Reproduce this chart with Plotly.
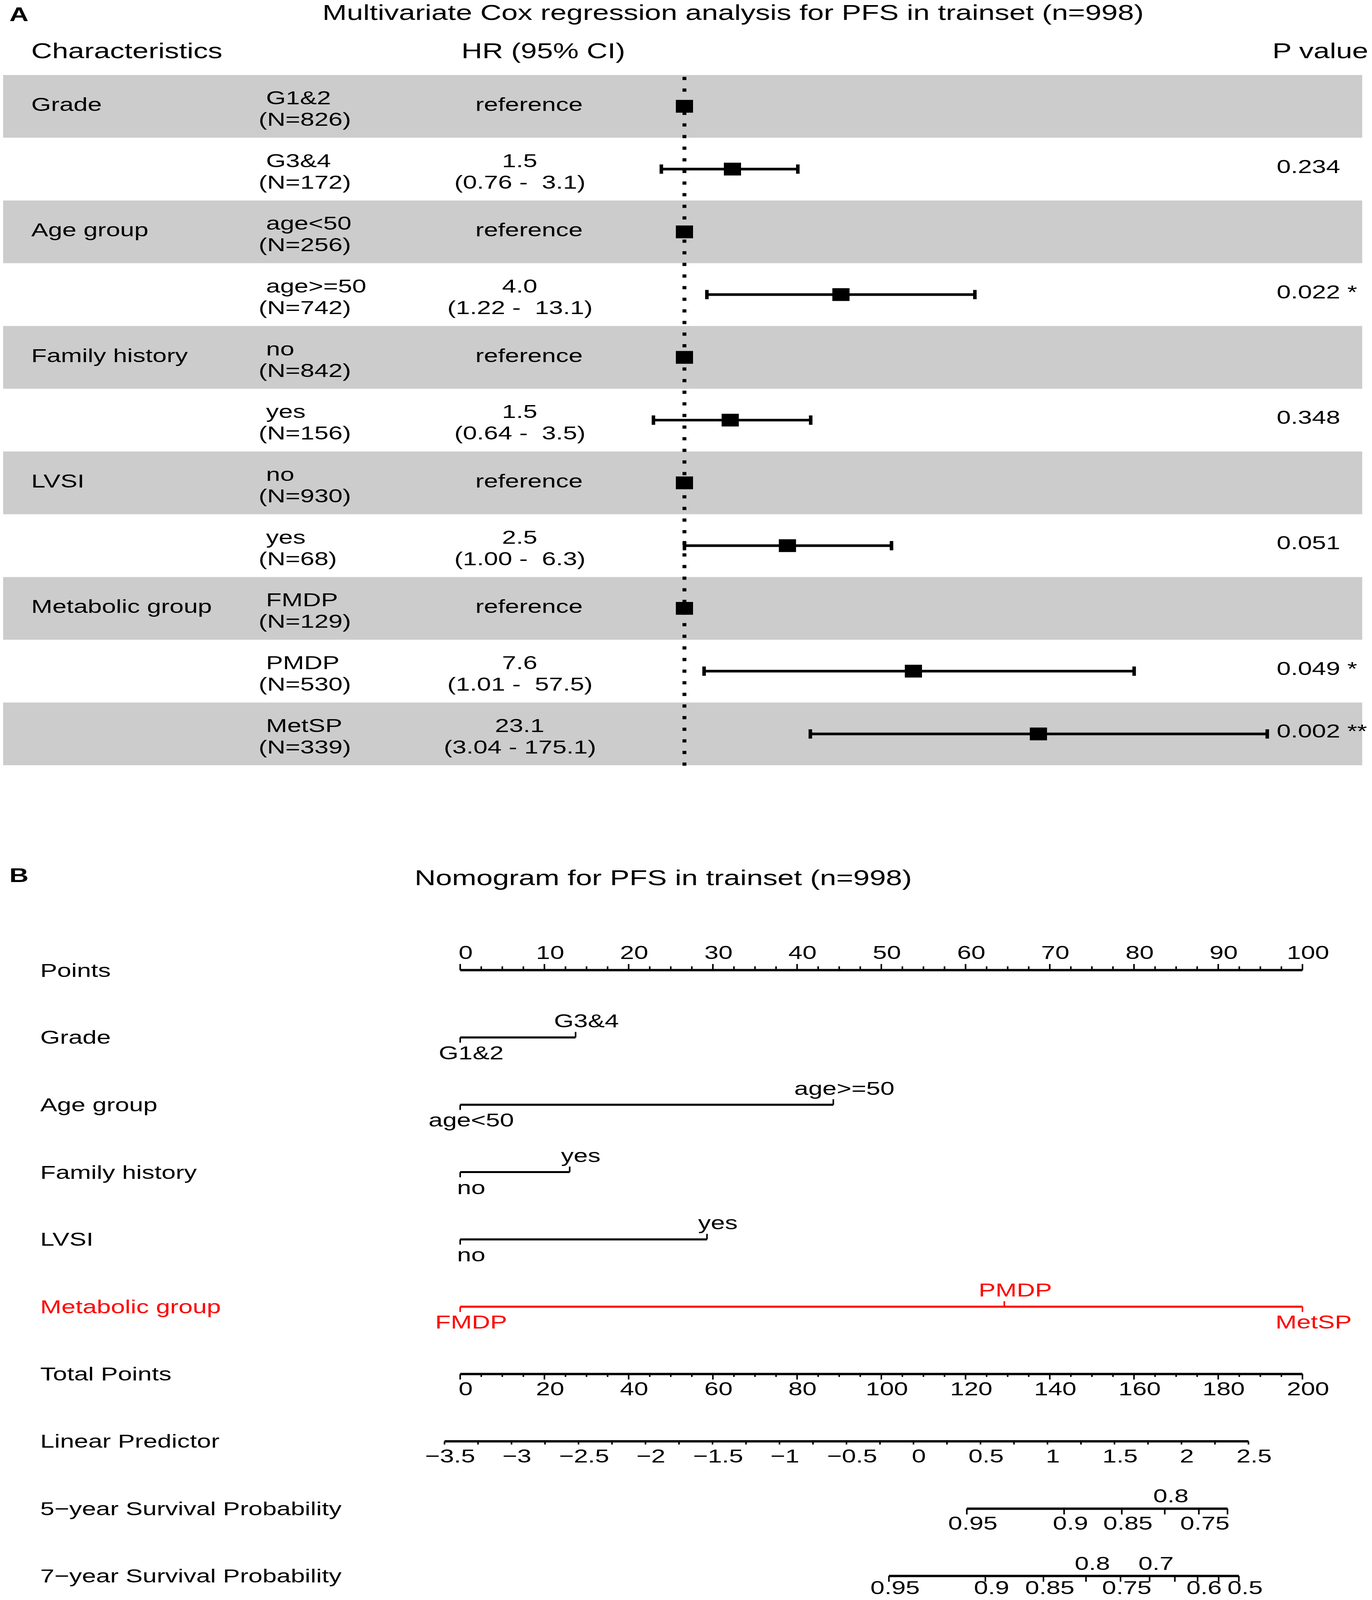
import numpy as np
import plotly.graph_objects as go

W, H = 3512, 5507
FONT = "Liberation Sans, Arial, Helvetica, sans-serif"
BODY = 65
HEAD = 74
TITLE = 75
LETTER = 68

# ---------------- Panel A : multivariate Cox regression (forest plot) ----------------
characteristics = ["Grade", "", "Age group", "", "Family history", "", "LVSI", "", "Metabolic group", "", ""]
levels = ["G1&2", "G3&4", "age<50", "age>=50", "no", "yes", "no", "yes", "FMDP", "PMDP", "MetSP"]
counts = [826, 172, 256, 742, 842, 156, 930, 68, 129, 530, 339]
hr_text = ["reference", "1.5", "reference", "4.0", "reference", "1.5", "reference", "2.5",
           "reference", "7.6", "23.1"]
ci_text = ["", "(0.76 -  3.1)", "", "(1.22 -  13.1)", "", "(0.64 -  3.5)", "", "(1.00 -  6.3)",
           "", "(1.01 -  57.5)", "(3.04 - 175.1)"]
p_text = ["", "0.234", "", "0.022 *", "", "0.348", "", "0.051", "", "0.049 *", "0.002 **"]
is_reference = [True, False, True, False, True, False, True, False, True, False, False]
# hazard ratios and confidence limits as drawn
hr_est = [1, 1.53, 1, 4.0, 1, 1.50, 1, 2.49, 1, 7.6, 23.0]
ci_low = [None, 0.815, None, 1.22, None, 0.76, None, 1.00, None, 1.19, 3.05]
ci_high = [None, 2.73, None, 13.1, None, 3.06, None, 6.26, None, 53.7, 174.6]

# ---------------- Panel B : nomogram ----------------
points_labels = [0, 10, 20, 30, 40, 50, 60, 70, 80, 90, 100]
points_minor_step = 2.5
nomo_vars = ["Grade", "Age group", "Family history", "LVSI", "Metabolic group"]
var_levels = [["G1&2", "G3&4"], ["age<50", "age>=50"], ["no", "yes"], ["no", "yes"],
              ["FMDP", "PMDP", "MetSP"]]
var_points = [[0, 13.7], [0, 44.3], [0, 13.0], [0, 29.3], [0, 64.6, 100]]
var_colors = ["black", "black", "black", "black", "#FF0000"]
total_labels = [0, 20, 40, 60, 80, 100, 120, 140, 160, 180, 200]
total_minor_step = 5
lp_labels = [-3.5, -3, -2.5, -2, -1.5, -1, -0.5, 0, 0.5, 1, 1.5, 2, 2.5]
lp_minor_step = 0.25
LP_AT_ZERO_TOTAL = -3.383      # linear predictor at 0 total points
LP_PER_TOTAL_POINT = 0.03143   # linear predictor change per total point
surv5_probs = [0.95, 0.9, 0.85, 0.8, 0.75, 0.7]
surv5_total = [120.3, 143.4, 157.1, 167.3, 175.4, 182.2]
surv5_side = ["below", "below", "below", "above", "below", ""]
surv7_probs = [0.95, 0.9, 0.85, 0.8, 0.75, 0.7, 0.65, 0.6, 0.55, 0.5]
surv7_total = [101.8, 124.7, 138.5, 148.6, 156.8, 163.7, 169.7, 175.1, 180.1, 184.9]
surv7_side = ["below", "below", "below", "above", "below", "above", "", "below", "", "below"]
row_names = ["Points", "Grade", "Age group", "Family history", "LVSI", "Metabolic group",
             "Total Points", "Linear Predictor", "5\u2212year Survival Probability",
             "7\u2212year Survival Probability"]
row_colors = ["black", "black", "black", "black", "black", "#FF0000", "black", "black", "black", "black"]

# ---------------- layout geometry (pixels) ----------------
A_ROW0, A_ROW = 150.0, 216.0        # forest rows
A_HR1, A_DEC = 1752.0, 665.4        # HR=1 position, px per decade
B_ROW0, B_ROW = 3339.0, 231.7       # nomogram rows
B_PT0, B_PT = 1178.0, 21.56         # points axis

def px(x):
    return x / W

def py(y):
    return 1 - y / H

uA = 1.0 / A_ROW
uB = 1.0 / B_ROW

fig = go.Figure()
annotations = []
shapes = []

def ann(text, x, y, xref, yref, xanchor="center", size=BODY, color="black", xshift=0, bold=False):
    t = text.replace("  ", " \u00a0")
    if bold:
        t = "<b>" + t + "</b>"
    annotations.append(dict(text=t, x=x, y=y, xref=xref, yref=yref, xanchor=xanchor,
                            yanchor="middle", showarrow=False, xshift=xshift,
                            font=dict(family=FONT, size=size, color=color)))

# ---- Panel A ----
rows = list(range(1, len(levels) + 1))
for r in rows:
    if r % 2 == 1:
        shapes.append(dict(type="rect", xref="paper", yref="y", x0=px(8), x1=px(3487),
                           y0=r - 0.5, y1=r + 0.5, fillcolor="#CCCCCC", line=dict(width=0),
                           layer="below"))

fig.add_trace(go.Scatter(x=[1, 1], y=[0.53, 11.57], mode="lines", xaxis="x", yaxis="y",
                         line=dict(color="black", width=10, dash="11px,29px"),
                         hoverinfo="skip", showlegend=False))

est_x = [h for h, ref in zip(hr_est, is_reference) if not ref]
est_y = [r for r, ref in zip(rows, is_reference) if not ref]
est_plus = [hi - h for h, hi, ref in zip(hr_est, ci_high, is_reference) if not ref]
est_minus = [h - lo for h, lo, ref in zip(hr_est, ci_low, is_reference) if not ref]
fig.add_trace(go.Scatter(x=est_x, y=est_y, mode="markers", xaxis="x", yaxis="y",
                         marker=dict(symbol="square", size=44, color="black", line=dict(width=0)),
                         error_x=dict(type="data", array=est_plus, arrayminus=est_minus,
                                      symmetric=False, color="black", thickness=9, width=16),
                         hoverinfo="skip", showlegend=False))
ref_x = [h for h, ref in zip(hr_est, is_reference) if ref]
ref_y = [r for r, ref in zip(rows, is_reference) if ref]
fig.add_trace(go.Scatter(x=ref_x, y=ref_y, mode="markers", xaxis="x", yaxis="y",
                         marker=dict(symbol="square", size=44, color="black", line=dict(width=0)),
                         hoverinfo="skip", showlegend=False))

for r, ch, lv, n, ht, ct, pt, ref in zip(rows, characteristics, levels, counts, hr_text,
                                         ci_text, p_text, is_reference):
    if ch:
        ann(ch, px(78), r - 7 * uA, "paper", "y", xanchor="left")
    ann(lv, px(679), r - 30 * uA, "paper", "y", xanchor="left")
    ann("(N=%d)" % n, px(660), r + 44 * uA, "paper", "y", xanchor="left")
    if ref:
        ann(ht, px(1354), r - 7 * uA, "paper", "y")
    else:
        ann(ht, px(1330), r - 30 * uA, "paper", "y")
        ann(ct, px(1331), r + 44 * uA, "paper", "y")
    if pt:
        ann(pt, px(3266), r - 10 * uA, "paper", "y", xanchor="left")

ann("A", px(22), py(48), "paper", "paper", xanchor="left", size=LETTER, bold=True)
ann("Multivariate Cox regression analysis for PFS in trainset (n=998)", px(1877), py(42),
    "paper", "paper", size=TITLE)
ann("Characteristics", px(78), py(174), "paper", "paper", xanchor="left", size=HEAD)
ann("HR (95% CI)", px(1390), py(174), "paper", "paper", size=HEAD)
ann("P value", px(3505), py(174), "paper", "paper", xanchor="right", size=HEAD)

# ---- Panel B ----
def add_lines(xs, ys, color="black", width=8):
    fig.add_trace(go.Scatter(x=xs, y=ys, mode="lines", xaxis="x2", yaxis="y2",
                             line=dict(color=color, width=width), hoverinfo="skip",
                             showlegend=False))

def ticks(xvals, y0, length_px, direction, color="black", width=4):
    xs, ys = [], []
    for v in xvals:
        xs += [v, v, None]
        ys += [y0, y0 + direction * length_px * uB, None]
    add_lines(xs, ys, color, width)

# Points
j = 0
add_lines([points_labels[0], points_labels[-1]], [j, j])
minor = [v for v in np.arange(points_labels[0], points_labels[-1] + 1e-9, points_minor_step)
         if v not in points_labels]
ticks(points_labels, j, 21, -1)
ticks(minor, j, 13, -1)
for v in points_labels:
    ann(str(v), v, j - 61 * uB, "x2", "y2", xshift=14)

# categorical predictors
for k, (lvls, pts, col) in enumerate(zip(var_levels, var_points, var_colors)):
    j = k + 1
    add_lines([min(pts), max(pts)], [j, j], col, 7)
    for idx, (lab, p) in enumerate(zip(lvls, pts)):
        if idx % 2 == 0:
            ticks([p], j, 18, 1, col, 4)
            ann(lab, p, j + 53 * uB, "x2", "y2", color=col, xshift=28)
        else:
            ticks([p], j, 19, -1, col, 4)
            ann(lab, p, j - 57 * uB, "x2", "y2", color=col, xshift=28)

# Total points
j = 6
tx = [t / 2 for t in total_labels]
add_lines([tx[0], tx[-1]], [j, j])
tminor = [t / 2 for t in np.arange(total_labels[0], total_labels[-1] + 1e-9, total_minor_step)
          if t not in total_labels]
ticks(tx, j, 19, 1)
ticks(tminor, j, 10, 1)
for t in total_labels:
    ann(str(t), t / 2, j + 51 * uB, "x2", "y2", xshift=14)

# Linear predictor
def lp_to_x(lp):
    return (lp - LP_AT_ZERO_TOTAL) / LP_PER_TOTAL_POINT / 2

j = 7
lp_all = np.arange(lp_labels[0], lp_labels[-1] + 1e-9, lp_minor_step)
add_lines([lp_to_x(lp_labels[0]), lp_to_x(lp_labels[-1])], [j, j])
ticks([lp_to_x(v) for v in lp_all], j, 11, 1)
for v in lp_labels:
    ann(("%g" % v).replace("-", "\u2212"), lp_to_x(v), j + 51 * uB, "x2", "y2", xshift=14)

# survival probabilities (the last row's labels are lifted slightly so they stay inside)
for j, probs, tots, sides, below_px in [(8, surv5_probs, surv5_total, surv5_side, 50),
                                        (9, surv7_probs, surv7_total, surv7_side, 40)]:
    xs = [t / 2 for t in tots]
    add_lines([min(xs), max(xs)], [j, j])
    ticks(xs, j, 20, 1)
    for pr, x, sd in zip(probs, xs, sides):
        if sd == "below":
            ann("%g" % pr, x, j + below_px * uB, "x2", "y2", xshift=16)
        elif sd == "above":
            ann("%g" % pr, x, j - 44 * uB, "x2", "y2", xshift=16)

for j, (name, col) in enumerate(zip(row_names, row_colors)):
    ann(name, px(101), j, "paper", "y2", xanchor="left", color=col)

ann("B", px(22), py(3012), "paper", "paper", xanchor="left", size=LETTER, bold=True)
ann("Nomogram for PFS in trainset (n=998)", px(1697), py(3021), "paper", "paper", size=TITLE)

fig.update_layout(
    width=W, height=H, autosize=False,
    margin=dict(l=0, r=0, t=0, b=0, pad=0),
    paper_bgcolor="white", plot_bgcolor="rgba(0,0,0,0)",
    showlegend=False, hovermode=False,
    font=dict(family=FONT, size=BODY, color="black"),
    xaxis=dict(type="log", domain=[0, 1], anchor="y",
               range=[-A_HR1 / A_DEC, (W - A_HR1) / A_DEC], visible=False),
    yaxis=dict(domain=[0, 1], anchor="x",
               range=[(H - A_ROW0) / A_ROW, -A_ROW0 / A_ROW], visible=False),
    xaxis2=dict(domain=[0, 1], anchor="y2",
                range=[-B_PT0 / B_PT, (W - B_PT0) / B_PT], visible=False),
    yaxis2=dict(domain=[0, 1], anchor="x2",
                range=[(H - B_ROW0) / B_ROW, -B_ROW0 / B_ROW], visible=False),
    annotations=annotations,
    shapes=shapes,
)

# The viewport can be shorter than the figure; fit the whole figure into it so nothing is cut.
fit_js = """
var gd = document.getElementById('{plot_id}');
document.body.style.margin = '0';
document.body.style.overflow = 'hidden';
var sy = Math.min(1, window.innerHeight / %d);
var sx = Math.min(1, window.innerWidth / %d);
gd.style.transformOrigin = '0 0';
gd.style.transform = 'scale(' + sx + ',' + sy + ')';
""" % (H, W)

fig.write_html("out.html", post_script=fit_js, config={"displayModeBar": False})
